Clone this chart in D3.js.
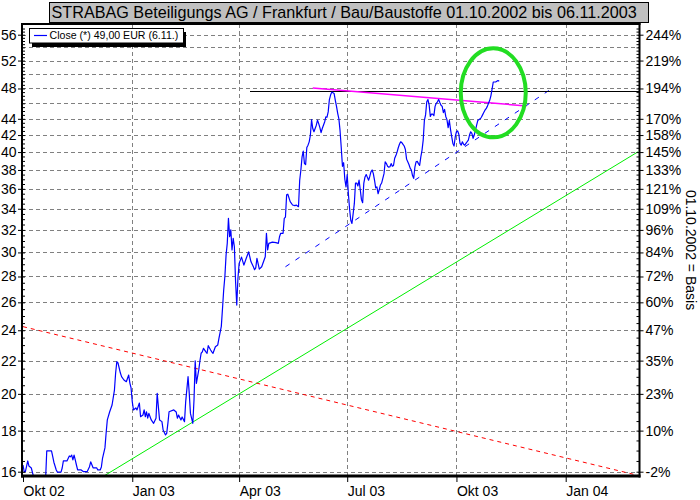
<!DOCTYPE html>
<html><head><meta charset="utf-8">
<script src="https://cdn.jsdelivr.net/npm/d3@7"></script>
<style>
body{margin:0;background:#fff}
svg{display:block}
text{font-family:Arial,"Liberation Sans",sans-serif;fill:#000}
</style>
</head><body><svg id="c" width="700" height="500"></svg>
<script>
// ---------------- DATA ----------------
const closeDates = [
"2002-10-01","2002-10-02","2002-10-03","2002-10-05","2002-10-06","2002-10-08","2002-10-10","2002-10-15","2002-10-20","2002-10-21",
"2002-10-25","2002-10-26","2002-10-27","2002-10-29","2002-10-30","2002-11-02","2002-11-03","2002-11-04","2002-11-07","2002-11-09",
"2002-11-10","2002-11-11","2002-11-12","2002-11-13","2002-11-14","2002-11-15","2002-11-16","2002-11-19","2002-11-21","2002-11-24",
"2002-11-26","2002-11-27","2002-11-29","2002-12-02","2002-12-03","2002-12-05","2002-12-06","2002-12-07","2002-12-09","2002-12-10",
"2002-12-11","2002-12-13","2002-12-15","2002-12-17","2002-12-18","2002-12-19","2002-12-20","2002-12-22","2002-12-23","2002-12-25",
"2002-12-27","2002-12-29","2002-12-30","2002-12-31","2003-01-01","2003-01-02","2003-01-04","2003-01-05","2003-01-07","2003-01-08",
"2003-01-10","2003-01-11","2003-01-12","2003-01-13","2003-01-14","2003-01-15","2003-01-17","2003-01-18","2003-01-19","2003-01-21",
"2003-01-22","2003-01-23","2003-01-24","2003-01-26","2003-01-27","2003-01-29","2003-01-30","2003-01-31","2003-02-01","2003-02-05",
"2003-02-07","2003-02-08","2003-02-09","2003-02-11","2003-02-12","2003-02-14","2003-02-15","2003-02-17","2003-02-18","2003-02-19",
"2003-02-21","2003-02-22","2003-02-23","2003-02-24","2003-02-26","2003-02-27","2003-02-28","2003-03-01","2003-03-02","2003-03-04",
"2003-03-05","2003-03-06","2003-03-08","2003-03-09","2003-03-10","2003-03-12","2003-03-14","2003-03-15","2003-03-17","2003-03-18",
"2003-03-19","2003-03-20","2003-03-21","2003-03-22","2003-03-23","2003-03-24","2003-03-25","2003-03-26","2003-03-27","2003-03-28",
"2003-03-29","2003-03-30","2003-03-31","2003-04-01","2003-04-03","2003-04-05","2003-04-07","2003-04-09","2003-04-11","2003-04-13",
"2003-04-14","2003-04-15","2003-04-16","2003-04-18","2003-04-20","2003-04-23","2003-04-24","2003-04-25","2003-04-26","2003-04-29",
"2003-05-02","2003-05-04","2003-05-05","2003-05-06","2003-05-08","2003-05-09","2003-05-10","2003-05-11","2003-05-12","2003-05-14",
"2003-05-16","2003-05-18","2003-05-19","2003-05-21","2003-05-22","2003-05-23","2003-05-24","2003-05-25","2003-05-26","2003-05-27",
"2003-05-28","2003-05-29","2003-05-30","2003-05-31","2003-06-01","2003-06-02","2003-06-03","2003-06-04","2003-06-05","2003-06-06",
"2003-06-07","2003-06-08","2003-06-09","2003-06-10","2003-06-11","2003-06-12","2003-06-13","2003-06-14","2003-06-15","2003-06-16",
"2003-06-17","2003-06-18","2003-06-19","2003-06-20","2003-06-21","2003-06-22","2003-06-23","2003-06-24","2003-06-25","2003-06-26",
"2003-06-27","2003-06-28","2003-06-29","2003-06-30","2003-07-01","2003-07-02","2003-07-03","2003-07-04","2003-07-05","2003-07-06",
"2003-07-07","2003-07-08","2003-07-09","2003-07-10","2003-07-11","2003-07-12","2003-07-13","2003-07-14","2003-07-15","2003-07-16",
"2003-07-17","2003-07-18","2003-07-19","2003-07-20","2003-07-21","2003-07-22","2003-07-23","2003-07-24","2003-07-25","2003-07-26",
"2003-07-27","2003-07-28","2003-07-29","2003-07-30","2003-07-31","2003-08-01","2003-08-02","2003-08-03","2003-08-04","2003-08-05",
"2003-08-06","2003-08-07","2003-08-08","2003-08-09","2003-08-10","2003-08-11","2003-08-12","2003-08-13","2003-08-14","2003-08-15",
"2003-08-16","2003-08-17","2003-08-18","2003-08-19","2003-08-20","2003-08-21","2003-08-22","2003-08-23","2003-08-24","2003-08-25",
"2003-08-26","2003-08-27","2003-08-28","2003-08-29","2003-08-30","2003-08-31","2003-09-01","2003-09-02","2003-09-03","2003-09-04",
"2003-09-05","2003-09-06","2003-09-07","2003-09-08","2003-09-09","2003-09-10","2003-09-11","2003-09-12","2003-09-13","2003-09-14",
"2003-09-15","2003-09-16","2003-09-17","2003-09-18","2003-09-19","2003-09-20","2003-09-21","2003-09-22","2003-09-23","2003-09-24",
"2003-09-25","2003-09-26","2003-09-27","2003-09-28","2003-09-29","2003-09-30","2003-10-01","2003-10-02","2003-10-03","2003-10-04",
"2003-10-05","2003-10-06","2003-10-07","2003-10-08","2003-10-09","2003-10-10","2003-10-11","2003-10-12","2003-10-13","2003-10-14",
"2003-10-15","2003-10-16","2003-10-17","2003-10-18","2003-10-19","2003-10-20","2003-10-21","2003-10-22","2003-10-23","2003-10-24",
"2003-10-25","2003-10-26","2003-10-27","2003-10-28","2003-10-29","2003-10-30","2003-10-31","2003-11-01","2003-11-03","2003-11-05",
"2003-11-06"
];
const closeValues = [
16.30,16.00,16.00,16.50,16.26,16.17,15.75,15.50,15.60,16.98,
16.98,16.72,16.44,16.08,15.98,15.98,16.17,16.50,16.50,16.74,
16.70,16.78,16.55,16.78,16.55,16.31,16.08,16.08,16.00,16.00,
16.23,16.46,16.18,16.18,16.08,16.08,16.22,16.64,17.13,17.88,
18.56,19.00,19.37,20.22,21.23,21.93,21.85,21.23,21.01,20.81,
20.71,21.11,20.63,20.34,19.56,19.10,19.21,19.10,19.48,18.73,
18.82,19.10,18.73,19.00,18.66,18.91,18.56,18.47,18.38,18.65,
20.03,19.27,18.56,18.47,18.03,17.78,17.86,18.38,19.00,19.10,
18.99,18.65,18.82,18.56,18.72,18.47,19.56,21.01,20.03,18.91,
18.38,19.65,21.99,20.61,21.42,21.99,22.47,22.56,22.79,22.56,
22.47,22.96,22.68,22.56,22.47,22.89,23.01,23.45,24.27,25.55,
26.94,28.00,29.77,30.79,33.08,31.38,32.00,30.21,31.24,30.49,
27.60,25.80,27.86,29.07,29.60,28.93,29.50,30.05,29.20,28.80,
28.55,28.70,29.49,28.60,28.79,29.63,31.69,30.21,30.79,30.90,
30.85,30.79,31.38,31.69,31.69,33.08,33.20,35.38,35.45,34.70,
34.37,34.30,34.37,34.20,36.90,38.00,39.45,40.10,38.71,38.60,
40.53,40.80,41.19,42.00,43.90,42.80,42.40,42.80,43.20,43.83,
43.40,42.90,42.30,42.80,43.20,43.60,44.24,44.20,44.88,46.50,
47.10,47.50,47.40,47.30,46.40,45.60,44.70,44.00,42.50,40.50,
38.40,38.80,37.00,36.20,37.50,35.50,34.00,32.90,32.60,33.50,
34.50,36.60,36.60,36.30,36.90,35.90,34.90,34.60,36.60,37.25,
37.50,37.20,36.90,37.30,37.80,38.00,37.60,36.90,36.10,36.20,
35.50,35.90,36.40,36.60,37.10,37.60,38.90,38.70,38.40,38.30,
38.35,38.70,38.40,38.50,39.30,39.60,40.00,40.50,40.90,41.20,
41.10,40.90,40.70,40.30,39.20,38.90,38.60,38.20,38.00,37.40,
37.10,38.30,38.90,38.95,38.70,38.50,39.45,40.20,41.40,43.80,
44.50,46.20,46.50,45.80,44.30,44.60,44.60,44.40,45.60,46.00,
46.20,46.50,46.10,45.75,45.60,44.80,45.20,44.30,43.90,42.90,
43.80,42.70,41.80,41.00,40.70,41.80,42.40,42.50,42.10,41.00,
40.80,41.20,40.90,40.80,41.00,41.20,41.40,42.00,42.40,42.20,
41.60,42.00,42.60,43.20,43.80,43.90,44.00,44.20,44.50,44.80,
45.10,45.30,45.60,46.00,46.40,47.00,47.90,48.90,48.90,49.10,
49.00
];

// trend / annotation lines (two end points each)
const horizontalDates = ["2003-04-10","2004-03-04"];
const horizontalValues = [47.65, 47.65];
const resistanceDates = ["2003-06-02","2003-11-29"];
const resistanceValues = [48.07, 45.65];
const supportDates = ["2003-05-10","2003-12-21"];
const supportValues = [28.79, 48.07];
const longTrendDates = ["2002-12-08","2004-03-02"];
const longTrendValues = [15.80, 40.04];
const downTrendDates = ["2002-10-01","2004-03-02"];
const downTrendValues = [24.25, 15.83];
const markDate = "2003-11-01";
const markValue = 47.4;

// axes
const yTicks = [56,52,48,44,42,40,38,36,34,32,30,28,26,24,22,20,18,16];
const rightLabels = ["244%","219%","194%","170%","158%","145%","133%","121%","109%","96%","84%","72%","60%","47%","35%","23%","10%","-2%"];
const gridValues = [16,18,20,22,24,26,28,30,32,34,36,38,40,42,44,46,48,50,52,54,56];
const xTickDates = ["2002-10-01","2003-01-01","2003-04-01","2003-07-01","2003-10-01","2004-01-01"];
const xTickLabels = ["Okt 02","Jan 03","Apr 03","Jul 03","Okt 03","Jan 04"];

const titleText = "STRABAG Beteiligungs AG / Frankfurt / Bau/Baustoffe 01.10.2002 bis 06.11.2003";
const legendText = "Close (*) 49,00 EUR (6.11.)";
const sideText = "01.10.2002 = Basis";

// ---------------- DRAW ----------------
const parse = d3.timeParse("%Y-%m-%d");
const svg = d3.select("#c");
const L = 22, R = 639.5, T = 24, B = 476;

const x = d3.scaleTime().domain([parse("2002-10-01"), parse("2004-01-01")]).range([23, 565.7]);
const y = d3.scaleLog().domain([16, 56]).range([471.7, 34.7]);

svg.append("defs").append("clipPath").attr("id","plot")
  .append("rect").attr("x",L).attr("y",T).attr("width",R-L).attr("height",B-T);

// gridlines
const grid = svg.append("g").attr("stroke","#808080").attr("stroke-width",1).attr("stroke-dasharray","4,3")
  .attr("shape-rendering","crispEdges");
grid.selectAll("line.h").data(gridValues).join("line")
  .attr("x1",L).attr("x2",R)
  .attr("y1",d=>Math.round(y(d))+0.5).attr("y2",d=>Math.round(y(d))+0.5);
grid.selectAll("line.v").data(xTickDates.slice(1)).join("line")
  .attr("x1",d=>Math.round(x(parse(d)))+0.5).attr("x2",d=>Math.round(x(parse(d)))+0.5)
  .attr("y1",T).attr("y2",B);

const plot = svg.append("g").attr("clip-path","url(#plot)");
const seg = (dates, vals) => dates.map((d,i)=>[x(parse(d)), y(vals[i])]);
const line = d3.line();

plot.append("path").attr("d", line(seg(longTrendDates,longTrendValues)))
  .attr("fill","none").attr("stroke","#00ee00").attr("stroke-width",1);
plot.append("path").attr("d", line(seg(downTrendDates,downTrendValues)))
  .attr("fill","none").attr("stroke","#ff0000").attr("stroke-width",1).attr("stroke-dasharray","4,4");
plot.append("path").attr("d", line(seg(supportDates,supportValues)))
  .attr("fill","none").attr("stroke","#0000ff").attr("stroke-width",1).attr("stroke-dasharray","5,7");
plot.append("path").attr("d", line(seg(horizontalDates,horizontalValues)))
  .attr("fill","none").attr("stroke","#000").attr("stroke-width",1).attr("shape-rendering","crispEdges");
plot.append("path").attr("d", line(seg(resistanceDates,resistanceValues)))
  .attr("fill","none").attr("stroke","#ff00ff").attr("stroke-width",1.5);

// price
const priceLine = d3.line().x(d=>x(parse(d[0]))).y(d=>y(d[1]));
plot.append("path").datum(closeDates.map((d,i)=>[d, closeValues[i]]))
  .attr("d", priceLine).attr("fill","none").attr("stroke","#0000ff").attr("stroke-width",1.2)
  .attr("stroke-linejoin","round");

// highlight ellipse
plot.append("ellipse").attr("cx", x(parse(markDate))).attr("cy", y(markValue))
  .attr("rx",32.5).attr("ry",44.5).attr("fill","none").attr("stroke","#22dd22").attr("stroke-width",4);

// axes
const fontSize = "14px";
const minorVals = d3.range(16, 57.01, 0.5);
const leftAxis = svg.append("g").attr("transform",`translate(${L},0)`)
  .call(d3.axisLeft(y).tickValues(yTicks).tickFormat(d=>d).tickSize(4).tickSizeOuter(0).tickPadding(1.5));
const rightAxis = svg.append("g").attr("transform",`translate(${R},0)`)
  .call(d3.axisRight(y).tickValues(yTicks).tickFormat((d,i)=>rightLabels[i]).tickSize(4).tickSizeOuter(0).tickPadding(2));
svg.append("g").attr("transform",`translate(${L},0)`)
  .call(d3.axisRight(y).tickValues(minorVals).tickFormat("").tickSize(3).tickSizeOuter(0))
  .call(g=>g.select(".domain").remove());
svg.append("g").attr("transform",`translate(${R},0)`)
  .call(d3.axisLeft(y).tickValues(minorVals).tickFormat("").tickSize(3).tickSizeOuter(0))
  .call(g=>g.select(".domain").remove());
const bottomAxis = svg.append("g").attr("transform",`translate(0,${B})`)
  .call(d3.axisBottom(x).tickValues(xTickDates.map(parse)).tickFormat((d,i)=>xTickLabels[i]).tickSize(6).tickSizeOuter(0).tickPadding(4.5));
bottomAxis.attr("text-anchor","start");
bottomAxis.selectAll("text").attr("x",0);

[leftAxis, rightAxis, bottomAxis].forEach(g=>{
  g.attr("font-size",fontSize).attr("font-family","Arial, 'Liberation Sans', sans-serif");
  g.select(".domain").remove();
  g.selectAll("text").attr("fill","#000");
});
svg.selectAll(".tick line").attr("stroke","#000");

// frame
const frame = svg.append("g").attr("stroke","#000").attr("fill","none");
frame.append("line").attr("x1",L).attr("x2",L).attr("y1",T-1).attr("y2",B+1.5).attr("stroke-width",2);
frame.append("line").attr("x1",R).attr("x2",R).attr("y1",T-1).attr("y2",B+1.5).attr("stroke-width",2);
frame.append("line").attr("x1",L-1).attr("x2",R+1).attr("y1",T).attr("y2",T).attr("stroke-width",2);
frame.append("line").attr("x1",L-1).attr("x2",R+1).attr("y1",B).attr("y2",B).attr("stroke-width",3);

// legend
const lg = svg.append("g");
lg.append("rect").attr("x",32).attr("y",32).attr("width",154).attr("height",15).attr("fill","#000");
lg.append("rect").attr("x",29.5).attr("y",28.5).attr("width",154).attr("height",14.5).attr("fill","#fff").attr("stroke","#000");
lg.append("line").attr("x1",34).attr("x2",47).attr("y1",35.5).attr("y2",35.5).attr("stroke","#0000ff").attr("stroke-width",1.2);
lg.append("text").attr("x",49.5).attr("y",39.3).attr("font-size","10.6px").text(legendText);

// title
svg.append("rect").attr("x",49.5).attr("y",2.5).attr("width",599).attr("height",20)
  .attr("fill","#c0c0c0").attr("stroke","#000");
svg.append("text").attr("x",51.5).attr("y",18).attr("font-size","16.2px").text(titleText);

// side label
svg.append("text").attr("transform","translate(686,250) rotate(90)")
  .attr("text-anchor","middle").attr("font-size","14px").text(sideText);
</script>
</body></html>
